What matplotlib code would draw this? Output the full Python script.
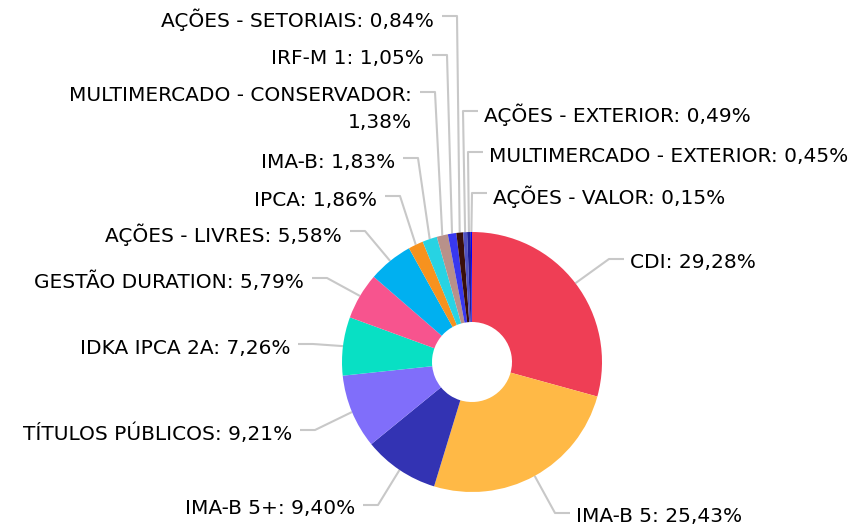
import matplotlib
matplotlib.use("Agg")
import matplotlib.pyplot as plt
import numpy as np

# data
labels = ["CDI", "IMA-B 5", "IMA-B 5+", "TÍTULOS PÚBLICOS", "IDKA IPCA 2A",
          "GESTÃO DURATION", "AÇÕES - LIVRES", "IPCA", "IMA-B",
          "MULTIMERCADO - CONSERVADOR", "IRF-M 1", "AÇÕES - SETORIAIS",
          "AÇÕES - EXTERIOR", "MULTIMERCADO - EXTERIOR", "AÇÕES - VALOR"]
values = [29.28, 25.43, 9.40, 9.21, 7.26, 5.79, 5.58, 1.86, 1.83, 1.38,
          1.05, 0.84, 0.49, 0.45, 0.15]
colors = ["#EF3E55", "#FFB946", "#3333B3", "#806EFA", "#08E0C4", "#F7548E",
          "#00B0F0", "#F7921E", "#27D3E3", "#B8918A", "#3838F0", "#3A0F0A",
          "#5050C0", "#1E1E96", "#0000FF"]

H = 529
# label layout: bend point (px, from top), side
bends = [(609, 259, "r"), (555, 513, "r"), (378, 505, "l"), (315, 430, "l"),
         (313, 344, "l"), (327, 278, "l"), (365, 231, "l"), (400, 196, "l"),
         (418, 158, "l"), (435, 92, "l"), (447, 55, "l"), (457, 16, "l"),
         (463, 111, "r"), (468, 152, "r"), (472, 193, "r")]

fig = plt.figure(figsize=(8.58, 5.29), dpi=100)
ax = fig.add_axes([0, 0, 1, 1])

cx, cy, R = 472, H - 362, 130
wedges, _ = ax.pie(values, colors=colors, startangle=90, counterclock=False,
                   center=(cx, cy), radius=R, frame=True,
                   wedgeprops=dict(width=R - 40, linewidth=0))
ax.set_xlim(0, 858)
ax.set_ylim(0, H)
ax.set_aspect("equal")
ax.axis("off")

fs = 14.5
for w, lab, v, (bx, by, side) in zip(wedges, labels, values, bends):
    ang = np.deg2rad((w.theta1 + w.theta2) / 2)
    ex, ey = cx + R * np.cos(ang), cy + R * np.sin(ang)
    by = H - by
    hx = bx + 15 if side == "r" else bx - 15
    ax.plot([ex, bx, hx], [ey, by, by], color="#C8C8C8", lw=1.5,
            solid_capstyle="butt", zorder=0)
    if lab == "MULTIMERCADO - CONSERVADOR":
        txt = f"{lab}:\n{v:.2f}%".replace(".", ",")
        ax.text(hx - 8, by + 6, txt, ha="right", va="top", fontsize=fs,
                linespacing=1.55, multialignment="right")
    elif side == "r":
        txt = f"{lab}: {v:.2f}%".replace(".", ",")
        ax.text(hx + 6, by - 4, txt, ha="left", va="center", fontsize=fs)
    else:
        txt = f"{lab}: {v:.2f}%".replace(".", ",")
        ax.text(hx - 8, by - 4, txt, ha="right", va="center", fontsize=fs)

fig.savefig("out.png", dpi=100)
